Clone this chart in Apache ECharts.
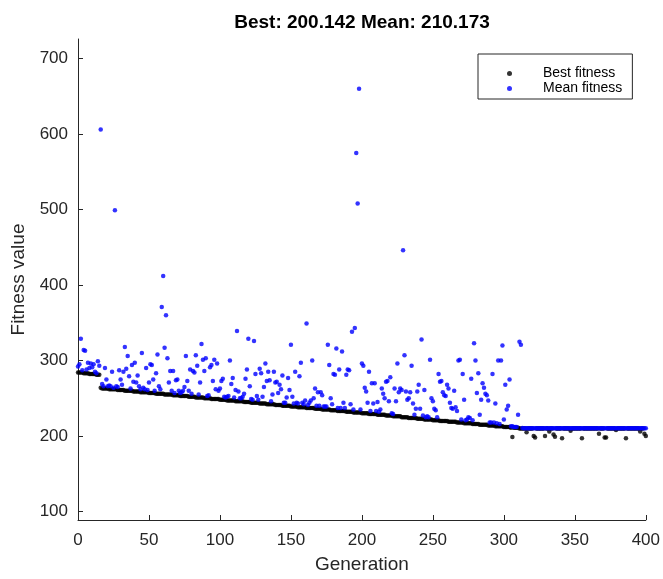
<!DOCTYPE html>
<html>
<head>
<meta charset="utf-8">
<script src="https://cdn.jsdelivr.net/npm/echarts@6/dist/echarts.min.js"></script>
<style>
  html, body { margin: 0; padding: 0; background: #fff; }
  #chart { width: 663px; height: 579px; }
</style>
</head>
<body>
<div id="chart"></div>
<script>
// best fitness per generation (index = generation, 0..400)
var bestFitness = [
  284,284,284,284,283,283,283,283,282,282,
  282,282,282,281,281,281,264,263,263,263,
  263,263,262,262,262,262,262,262,261,261,
  261,261,261,260,260,260,260,260,260,259,
  259,259,259,259,258,258,258,258,258,258,
  257,257,257,257,257,256,256,256,256,256,
  256,255,255,255,255,255,255,254,254,254,
  254,254,253,253,253,253,253,253,252,252,
  252,252,252,251,251,251,251,251,251,250,
  250,250,250,250,249,249,249,249,249,249,
  248,248,248,248,248,247,247,247,247,247,
  247,246,246,246,246,246,246,245,245,245,
  245,245,244,244,244,244,244,244,243,243,
  243,243,243,242,242,242,242,242,242,241,
  241,241,241,241,240,240,240,240,240,240,
  239,239,239,239,239,238,238,238,238,238,
  238,237,237,237,237,237,237,236,236,236,
  236,236,235,235,235,235,235,235,234,234,
  234,234,234,233,233,233,233,233,233,232,
  232,232,232,232,231,231,231,231,231,231,
  230,230,230,230,230,229,229,229,229,229,
  229,228,228,228,228,228,228,227,227,227,
  227,227,226,226,226,226,226,226,225,225,
  225,225,225,224,224,224,224,224,224,223,
  223,223,223,223,222,222,222,222,222,222,
  221,221,221,221,221,220,220,220,220,220,
  220,219,219,219,219,219,219,218,218,218,
  218,218,217,217,217,217,217,217,216,216,
  216,216,216,215,215,215,215,215,215,214,
  214,214,214,214,213,213,213,213,213,213,
  212,212,212,212,212,211,198.7,211,211,211,
  211,210,210,210,210,210,205,210,210,210,
  210,200,198,210,210,210,210,210,210,200,
  210,210,206,210,210,202,199,210,210,210,
  210,197,210,210,210,210,210,207,210,210,
  210,210,210,210,210,197,210,210,210,210,
  210,210,210,210,210,210,210,203,210,210,
  210,198,198,210,210,210,210,210,210,208,
  210,210,210,210,210,210,197,210,210,210,
  210,210,210,210,210,210,206,210,210,203,
  200.142
];

// mean fitness per generation
var meanFitness = [
  292,295,329,287,314,313,288,297,290,296,
  291,295,285,283,299,293,606,269,266,290,
  275,266,267,266,285,264,499,266,265,287,
  275,268,285,318,289,306,279,263,294,272,
  297,271,280,266,262,310,264,262,290,261,
  271,295,294,275,260,283,308,266,262,371,
  412,317,360,303,271,286,260,286,257,274,
  275,260,257,258,260,265,306,273,260,288,
  256,286,284,307,293,255,271,322,301,286,
  303,253,254,291,294,273,301,262,296,260,
  263,273,276,252,251,252,253,300,269,277,
  251,261,339,259,250,250,252,256,276,288,
  329,266,249,248,326,282,253,248,289,283,
  252,265,296,273,285,274,246,255,285,271,
  272,257,268,262,280,244,244,251,277,261,
  321,252,243,285,244,243,279,297,244,242,
  247,349,241,244,247,300,250,263,240,258,
  240,258,254,239,239,239,321,294,250,242,
  282,281,316,237,288,237,312,244,237,281,
  288,287,242,338,235,343,575,508,660,235,
  296,293,264,259,244,285,233,270,243,270,
  233,245,232,235,263,256,250,272,273,246,
  278,230,229,263,246,296,258,263,261,446,
  307,259,248,250,258,293,243,228,236,259,
  268,236,328,227,261,225,226,225,301,250,
  246,236,234,225,282,272,273,258,254,253,
  268,263,244,237,236,260,238,233,300,301,
  222,282,248,221,222,225,224,276,221,323,
  300,257,283,228,248,270,264,256,254,247,
  218,218,282,218,243,217,300,216,300,320,
  222,268,235,240,275,213,213,212,212,212,
  228,325,321,210.5,210.2,210.2,210.2,210.2,210.2,210.2,
  210.2,210.2,210.2,210.2,210.2,210.2,210.2,210.2,210.2,210.2,
  210.2,210.2,210.2,210.2,210.2,210.2,210.2,210.2,210.2,210.2,
  210.2,210.2,210.2,210.2,210.2,210.2,210.2,210.2,210.2,210.2,
  210.2,210.2,210.2,210.2,210.2,210.2,210.2,210.2,210.2,210.2,
  210.2,210.2,210.2,210.2,210.2,210.2,210.2,210.2,210.2,210.2,
  210.2,210.2,210.2,210.2,210.2,210.2,210.2,210.2,210.2,210.2,
  210.2,210.2,210.2,210.2,210.2,210.2,210.2,210.2,210.2,210.2,
  210.2,210.2,210.2,210.2,210.2,210.2,210.2,210.2,210.2,210.2,
  210.173
];

var yTicks = [100, 200, 300, 400, 500, 600, 700];
var titleText = 'Best: 200.142 Mean: 210.173';

var axisColor = '#262626';
var fontFamily = '"Liberation Sans", Arial, Helvetica, sans-serif';

var chart = echarts.init(document.getElementById('chart'), null, { renderer: 'canvas' });

var option = {
  animation: false,
  backgroundColor: '#fff',
  title: {
    text: titleText,
    left: 362,
    textAlign: 'center',
    top: 13,
    padding: 0,
    textStyle: { fontFamily: fontFamily, fontSize: 19, fontWeight: 'bold', color: '#000' }
  },
  legend: {
    orient: 'vertical',
    left: 478,
    top: 54,
    padding: [12, 10, 3, 29],
    itemGap: 0,
    itemWidth: 5,
    itemHeight: 5,
    icon: 'circle',
    borderColor: axisColor,
    borderWidth: 1,
    backgroundColor: '#fff',
    textStyle: { fontFamily: fontFamily, fontSize: 14, color: '#000', lineHeight: 15, padding: [0, 0, 0, 26] },
    data: ['Best fitness', 'Mean fitness']
  },
  grid: { left: 78, right: 17, top: 39, bottom: 56, containLabel: false },
  xAxis: {
    type: 'value',
    min: 0,
    max: 400,
    interval: 50,
    name: 'Generation',
    nameLocation: 'middle',
    nameGap: 35,
    nameTextStyle: { fontFamily: fontFamily, fontSize: 19, color: axisColor },
    axisLine: { show: true, lineStyle: { color: axisColor, width: 1 } },
    axisTick: { show: true, inside: true, length: 5, lineStyle: { color: axisColor } },
    axisLabel: { margin: 12, fontFamily: fontFamily, fontSize: 17, color: axisColor },
    splitLine: { show: false }
  },
  yAxis: {
    type: 'value',
    min: 88.7,
    max: 726,
    name: 'Fitness value',
    nameLocation: 'middle',
    nameGap: 47,
    nameTextStyle: { fontFamily: fontFamily, fontSize: 19, color: axisColor },
    axisLine: { show: true, lineStyle: { color: axisColor, width: 1 } },
    axisTick: { show: true, inside: true, length: 5, customValues: yTicks, lineStyle: { color: axisColor } },
    axisLabel: { margin: 10, fontFamily: fontFamily, fontSize: 17, color: axisColor, customValues: yTicks },
    splitLine: { show: false }
  },
  series: [
    {
      name: 'Best fitness',
      type: 'scatter',
      symbol: 'circle',
      symbolSize: 4.5,
      itemStyle: { color: '#000' },
      data: bestFitness.map(function (v, i) { return [i, v]; })
    },
    {
      name: 'Mean fitness',
      type: 'scatter',
      symbol: 'circle',
      symbolSize: 4.5,
      itemStyle: { color: '#0000ff' },
      data: meanFitness.map(function (v, i) { return [i, v]; })
    }
  ]
};

chart.setOption(option);
</script>
</body>
</html>
